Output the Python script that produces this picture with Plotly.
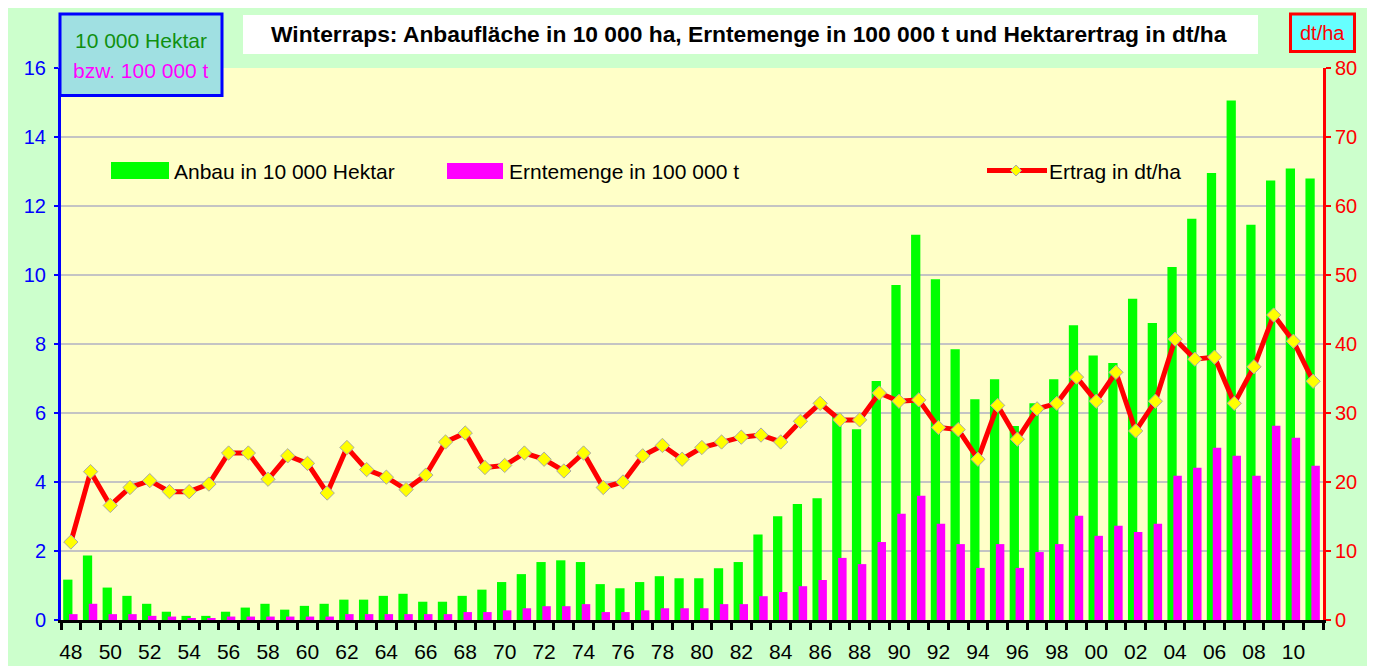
import plotly.graph_objects as go

# ---------------- data ----------------
years = list(range(1948, 2012))
anbau_10000ha = [
    1.17, 1.87, 0.94, 0.70, 0.47, 0.24, 0.12, 0.12, 0.24, 0.36,
    0.47, 0.30, 0.41, 0.47, 0.59, 0.59, 0.70, 0.76, 0.53, 0.53,
    0.70, 0.88, 1.10, 1.33, 1.68, 1.73, 1.68, 1.04, 0.92, 1.10,
    1.27, 1.21, 1.21, 1.50, 1.68, 2.48, 3.01, 3.36, 3.53, 5.98,
    5.53, 6.93, 9.71, 11.17, 9.88, 7.85, 6.40, 6.98, 5.62, 6.28,
    6.98, 8.54, 7.67, 7.45, 9.31, 8.61, 10.23, 11.63, 12.96, 15.06,
    11.46, 12.74, 13.09, 12.80,
]
ernte_100000t = [
    0.17, 0.47, 0.17, 0.17, 0.12, 0.10, 0.03, 0.03, 0.10, 0.10,
    0.10, 0.10, 0.10, 0.10, 0.17, 0.17, 0.17, 0.17, 0.17, 0.17,
    0.23, 0.23, 0.28, 0.34, 0.40, 0.40, 0.46, 0.23, 0.23, 0.28,
    0.34, 0.34, 0.34, 0.46, 0.46, 0.69, 0.81, 0.98, 1.16, 1.80,
    1.62, 2.26, 3.08, 3.60, 2.79, 2.20, 1.51, 2.20, 1.51, 1.97,
    2.20, 3.02, 2.44, 2.73, 2.55, 2.79, 4.18, 4.41, 4.99, 4.76,
    4.18, 5.63, 5.28, 4.47,
]
ertrag_dt_ha = [
    11.3, 21.5, 16.6, 19.2, 20.2, 18.6, 18.6, 19.7, 24.2, 24.2,
    20.4, 23.8, 22.7, 18.4, 25.0, 21.8, 20.7, 18.9, 21.0, 25.8,
    27.1, 22.1, 22.4, 24.2, 23.3, 21.6, 24.2, 19.2, 20.0, 23.8,
    25.3, 23.3, 25.0, 25.8, 26.5, 26.8, 25.8, 28.8, 31.4, 29.0,
    29.0, 32.9, 31.7, 31.9, 27.9, 27.6, 23.3, 31.1, 26.2, 30.6,
    31.4, 35.2, 31.7, 35.9, 27.4, 31.7, 40.7, 37.8, 38.1, 31.4,
    36.7, 44.2, 40.4, 34.6,
]
label_years = list(range(1948, 2011, 2))
label_text = [f"{y % 100:02d}" for y in label_years]
left_ticks = list(range(0, 17, 2))
right_ticks = list(range(0, 81, 10))

# ---------------- geometry helpers (page pixels; page body has 8px margin) ----------------
OFF = 8
W, H = 1364, 658
PL, PR, PT, PB = 61, 1323, 68, 620          # plot area in page pixels
ML = PL - OFF
MR = W - (PR - OFF)
MT = PT - OFF
MB = H - (PB - OFF)
PW = W - ML - MR
PH = H - MT - MB


def fx(x):
    return (x - OFF - ML) / PW


def fy(y):
    return (H - MB - (y - OFF)) / PH


FONT = "Liberation Sans, Arial, sans-serif"

fig = go.Figure()
fig.add_trace(go.Bar(
    x=years, y=anbau_10000ha, name="Anbau in 10 000 Hektar",
    width=0.47, offset=-0.39, marker=dict(color="#00FF00", line=dict(width=0)),
    opacity=1, showlegend=False,
))
fig.add_trace(go.Bar(
    x=years, y=ernte_100000t, name="Erntemenge in 100 000 t",
    width=0.43, offset=-0.09, marker=dict(color="#FF00FF", line=dict(width=0)),
    opacity=1, showlegend=False,
))
fig.add_trace(go.Scatter(
    x=years, y=ertrag_dt_ha, name="Ertrag in dt/ha", yaxis="y2",
    mode="lines+markers",
    line=dict(color="#FF0000", width=5),
    marker=dict(symbol="diamond", size=11, color="#FFFF00",
                line=dict(color="#A8A8A8", width=1)),
    showlegend=False,
))

shapes = []
# white page strip right of the green chart area
shapes.append(dict(type="rect", xref="paper", yref="paper",
                   x0=fx(1367), x1=fx(1390), y0=fy(700), y1=fy(0),
                   fillcolor="white", line=dict(width=0), layer="below"))
# unit box top-left
shapes.append(dict(type="rect", xref="paper", yref="paper",
                   x0=fx(60), x1=fx(222), y0=fy(95.5), y1=fy(14),
                   fillcolor="#A0E0E2", line=dict(color="#0000FF", width=3),
                   layer="above"))
# title box
shapes.append(dict(type="rect", xref="paper", yref="paper",
                   x0=fx(243), x1=fx(1258), y0=fy(54), y1=fy(15),
                   fillcolor="white", line=dict(width=0), layer="above"))
# dt/ha box
shapes.append(dict(type="rect", xref="paper", yref="paper",
                   x0=fx(1290.5), x1=fx(1354.5), y0=fy(51.5), y1=fy(14),
                   fillcolor="#66FFFF", line=dict(color="#FF0000", width=3),
                   layer="above"))
# legend swatches
shapes.append(dict(type="rect", xref="paper", yref="paper",
                   x0=fx(111), x1=fx(169), y0=fy(179), y1=fy(162),
                   fillcolor="#00FF00", line=dict(width=0), layer="above"))
shapes.append(dict(type="rect", xref="paper", yref="paper",
                   x0=fx(447), x1=fx(503), y0=fy(179), y1=fy(163),
                   fillcolor="#FF00FF", line=dict(width=0), layer="above"))
shapes.append(dict(type="line", xref="paper", yref="paper",
                   x0=fx(987), x1=fx(1047), y0=fy(170.5), y1=fy(170.5),
                   line=dict(color="#FF0000", width=5), layer="above"))
cx, cy, r = 1016, 170.5, 5.5
shapes.append(dict(type="path", xref="paper", yref="paper",
                   path=(f"M {fx(cx - r)} {fy(cy)} L {fx(cx)} {fy(cy - r)} "
                         f"L {fx(cx + r)} {fy(cy)} L {fx(cx)} {fy(cy + r)} Z"),
                   fillcolor="#FFFF00", line=dict(color="#A8A8A8", width=1),
                   layer="above"))

annotations = [
    dict(x=fx(141), y=fy(40), text="10 000 Hektar", font=dict(color="#109010", size=21, family=FONT)),
    dict(x=fx(141), y=fy(70), text="bzw. 100 000 t", font=dict(color="#FF00FF", size=21, family=FONT)),
    dict(x=fx(749), y=fy(34), text="<b>Winterraps: Anbaufläche in 10 000 ha, Erntemenge in 100 000 t und Hektarertrag in dt/ha</b>",
         font=dict(color="black", size=22.8, family=FONT)),
    dict(x=fx(1322.5), y=fy(33), text="dt/ha", font=dict(color="#FF0000", size=20, family=FONT)),
    dict(x=fx(172), y=fy(171), text="Anbau in 10 000 Hektar", xanchor="left",
         font=dict(color="black", size=21, family=FONT)),
    dict(x=fx(507), y=fy(171), text="Erntemenge in 100 000 t", xanchor="left",
         font=dict(color="black", size=21, family=FONT)),
    dict(x=fx(1047), y=fy(171), text="Ertrag in dt/ha", xanchor="left",
         font=dict(color="black", size=21, family=FONT)),
]
for a in annotations:
    a.update(xref="paper", yref="paper", showarrow=False)
    a.setdefault("xanchor", "center")
    a["yanchor"] = "middle"

fig.update_layout(
    width=W, height=H,
    margin=dict(l=ML, r=MR, t=MT, b=MB, pad=0),
    paper_bgcolor="#CCFFCC",
    plot_bgcolor="#FFFFC8",
    barmode="overlay",
    showlegend=False,
    shapes=shapes,
    annotations=annotations,
    font=dict(family=FONT),
    xaxis=dict(
        range=[1947.5, 2011.5], tickmode="array", tickvals=label_years, ticktext=label_text,
        ticks="", showgrid=False, zeroline=False,
        showline=True, linecolor="black", linewidth=3,
        tickfont=dict(size=21, color="black", family=FONT),
        ticklabelstandoff=11,
        minor=dict(tickmode="linear", tick0=1947.5, dtick=1, ticks="outside",
                   ticklen=7, tickwidth=3, tickcolor="black", showgrid=False),
        automargin=False,
    ),
    yaxis=dict(
        range=[0, 16], tickmode="array", tickvals=left_ticks,
        showgrid=True, gridcolor="#C4C4C4", gridwidth=2, zeroline=False,
        showline=True, linecolor="#0000FF", linewidth=3,
        ticks="outside", ticklen=4, tickwidth=2, tickcolor="#0000FF",
        tickfont=dict(size=20, color="#0000FF", family=FONT),
        ticklabelstandoff=4,
        automargin=False,
    ),
    yaxis2=dict(
        range=[0, 80], tickmode="array", tickvals=right_ticks,
        overlaying="y", side="right", anchor="x",
        showgrid=False, zeroline=False,
        showline=True, linecolor="#FF0000", linewidth=3,
        ticks="outside", ticklen=5, tickwidth=2, tickcolor="#FF0000",
        tickfont=dict(size=20, color="#FF0000", family=FONT),
        automargin=False,
    ),
)

fig.write_html("out.html")
